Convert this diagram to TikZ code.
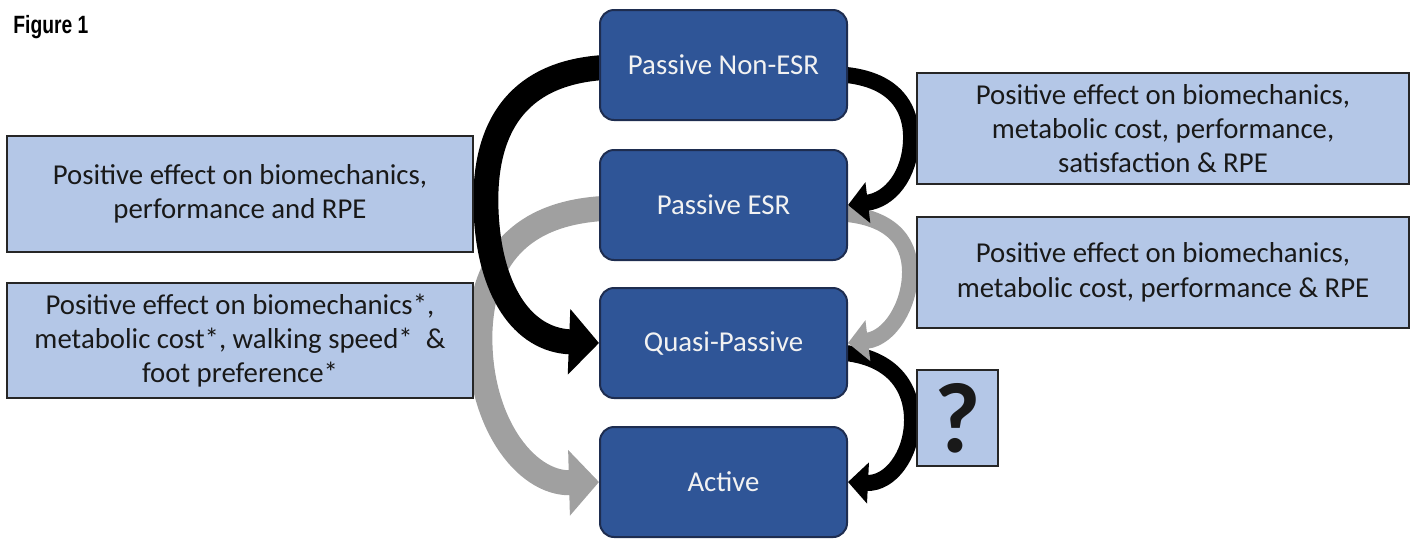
\documentclass[tikz,border=0pt]{standalone}
\usepackage{fontspec}
\usepackage{graphicx}
\setmainfont{Carlito}
\newfontfamily\figfont{Liberation Sans}
\usetikzlibrary{arrows.meta,calc}
\pgfdeclarelayer{bg}
\pgfsetlayers{bg,main}
\definecolor{boxblue}{RGB}{47,85,151}
\definecolor{boxedge}{RGB}{30,45,80}
\definecolor{lightblue}{RGB}{180,199,231}
\definecolor{lightedge}{RGB}{38,38,38}
\definecolor{arrowgray}{RGB}{160,160,160}
\definecolor{offwhite}{RGB}{242,242,242}
\tikzset{
  stagebox/.style={draw=boxedge, line width=1pt, fill=boxblue, rounded corners=7pt,
    minimum width=123.5pt, minimum height=55pt, inner sep=0pt, align=center,
    text=offwhite, font=\fontsize{14.4}{17.5}\selectfont},
  notebox/.style={draw=lightedge, line width=0.9pt, fill=lightblue,
    inner sep=0pt, align=center, text=black!90,
    font=\fontsize{14.4}{17.2}\selectfont},
  bigarrow/.style={line width=12.5pt, -{Triangle[length=15pt,width=32pt]}},
  smallarrow/.style={line width=8pt, -{Triangle[length=10pt,width=20pt]}}
}
\begin{document}
\begin{tikzpicture}[x=0.5pt,y=-0.5pt]
\useasboundingbox (0,0) rectangle (1416,538);

% title
\node[anchor=base west, inner sep=0pt] (title) at (13,33)
  {\figfont\bfseries\fontsize{12.5}{12.5}\selectfont\scalebox{0.77}[1]{Figure 1}};

% stage boxes
\node[stagebox] (nonesr) at (723.5,65) {Passive Non-ESR};
\node[stagebox] (esr)    at (723.5,205) {Passive ESR};
\node[stagebox] (qp)     at (723.5,343) {Quasi-Passive};
\node[stagebox] (active) at (723.5,482) {Active};

% note boxes
\node[notebox, minimum width=233pt, minimum height=58pt] (l1) at (240,194)
  {Positive effect on biomechanics,\\performance and RPE};
\node[notebox, minimum width=233pt, minimum height=57.5pt] (l2) at (240,340.5)
  {Positive effect on biomechanics*,\\metabolic cost*, walking speed*~~\&\\foot preference*};
\node[notebox, minimum width=246pt, minimum height=55.5pt] (r1) at (1163,128.5)
  {Positive effect on biomechanics,\\metabolic cost, performance,\\satisfaction \& RPE};
\node[notebox, minimum width=246pt, minimum height=55.5pt] (r2) at (1163,272.5)
  {Positive effect on biomechanics,\\metabolic cost, performance \& RPE};
\node[notebox, minimum width=40.5pt, minimum height=48pt, font=\fontsize{50}{50}\selectfont\bfseries] (q) at (957.5,418) {?};

% connectors
\begin{pgfonlayer}{bg}
  % left side
  \draw[bigarrow, draw=arrowgray] ($(esr.west)+(20,3)$)
    .. controls (535,208) and (484,245) .. (480,330)
    .. controls (477,420) and (525,484) .. (active.west);
  \draw[bigarrow, draw=black] ($(nonesr.west)+(20,2)$)
    .. controls (515,67) and (483,130) .. (486,210)
    .. controls (489,290) and (522,340) .. (qp.west);
  % right side
  \draw[smallarrow, draw=black] ($(qp.east)+(-20,9)$)
    .. controls (890,352) and (912,385) .. (912,420)
    .. controls (912,455) and (890,484) .. (active.east);
  \draw[smallarrow, draw=arrowgray] ($(esr.east)+(-20,8)$)
    .. controls (890,213) and (910,240) .. (910,272)
    .. controls (910,305) and (890,338) .. (qp.east);
  \draw[smallarrow, draw=black] ($(nonesr.east)+(-20,9)$)
    .. controls (895,74) and (912,108) .. (911,140)
    .. controls (910,175) and (890,200) .. (esr.east);
\end{pgfonlayer}
\end{tikzpicture}
\end{document}
